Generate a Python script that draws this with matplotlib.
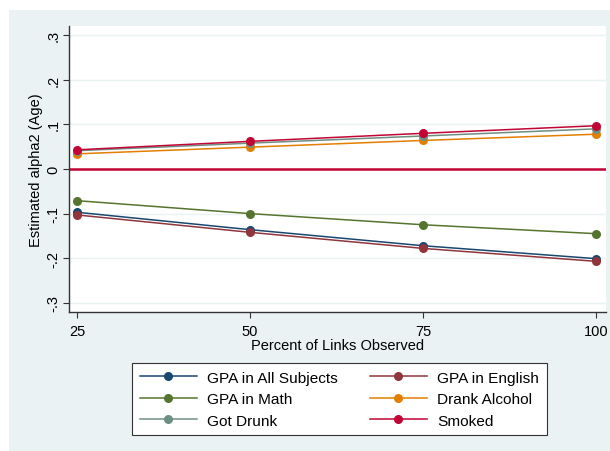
import matplotlib.pyplot as plt
from matplotlib.patches import Rectangle

plt.rcParams['font.family'] = ['Liberation Sans', 'DejaVu Sans']

# percent of links observed
pct = [25, 50, 75, 100]

# estimated alpha2 (age) per outcome
gpa_all = [-0.097, -0.136, -0.172, -0.201]
gpa_eng = [-0.103, -0.142, -0.178, -0.207]
gpa_math = [-0.071, -0.100, -0.125, -0.145]
drank = [0.034, 0.049, 0.064, 0.078]
drunk = [0.041, 0.058, 0.074, 0.090]
smoked = [0.043, 0.062, 0.080, 0.097]

yticks = [-0.3, -0.2, -0.1, 0, 0.1, 0.2, 0.3]
ytick_labels = ['-.3', '-.2', '-.1', '0', '.1', '.2', '.3']

# stata s2color palette
series = [
	('GPA in All Subjects', gpa_all, '#1a476f'),
	('GPA in English', gpa_eng, '#90353b'),
	('GPA in Math', gpa_math, '#55752f'),
	('Drank Alcohol', drank, '#e37e00'),
	('Got Drunk', drunk, '#6e8e84'),
	('Smoked', smoked, '#c10534'),
]

fig = plt.figure(figsize=(6.10, 4.52), dpi=100)
fig.add_artist(Rectangle((9/610, 0), 1, 1 - 11/452, transform=fig.transFigure,
	facecolor='#eaf2f3', edgecolor='none', zorder=-10))

ax = fig.add_axes([69/610, 1 - 313/452, (606-69)/610, (313-27)/452])
ax.set_facecolor('white')

for y in yticks:
	ax.axhline(y, color='#eaf2f3', lw=1, zorder=1)
ax.axhline(0, color='#c10534', lw=1.8, zorder=2)

for name, vals, col in series:
	ax.plot(pct, vals, color=col, lw=1.1, marker='o', markersize=6.5,
		markeredgewidth=0, label=name, zorder=3)

ax.set_xlim(23.84, 101.45)
ax.set_ylim(-0.3206, 0.3206)
ax.set_xticks(pct)
ax.set_yticks(yticks)
ax.set_yticklabels(ytick_labels, rotation=90, va='center')
ax.tick_params(labelsize=10.5, length=4, width=0.8, color='#333333')
ax.tick_params(axis='x', pad=5)
ax.tick_params(axis='y', pad=2)
ax.set_xlabel('Percent of Links Observed', fontsize=10.5, labelpad=0)
ax.set_ylabel('Estimated alpha2 (Age)', fontsize=10.5)
ax.yaxis.set_label_coords(-0.048, 0.5)
for s in ['top', 'right']:
	ax.spines[s].set_visible(False)
for s in ['left', 'bottom']:
	ax.spines[s].set_color('#333333')
	ax.spines[s].set_linewidth(1)

# legend fills row by row: reorder for matplotlib's column-major layout
handles, labels = ax.get_legend_handles_labels()
order = [0, 2, 4, 1, 3, 5]
leg = fig.legend([handles[i] for i in order], [labels[i] for i in order],
	ncol=2, loc='upper left', bbox_to_anchor=(132/610, 1 - 364/452),
	fontsize=11.1, frameon=True, fancybox=False, edgecolor='#333333',
	facecolor='white', framealpha=1,
	handlelength=3.7, handletextpad=0.65, columnspacing=2.1,
	labelspacing=0.48, borderaxespad=0, borderpad=0.5)
leg.get_frame().set_linewidth(0.8)

fig.savefig('out.png', dpi=100)
